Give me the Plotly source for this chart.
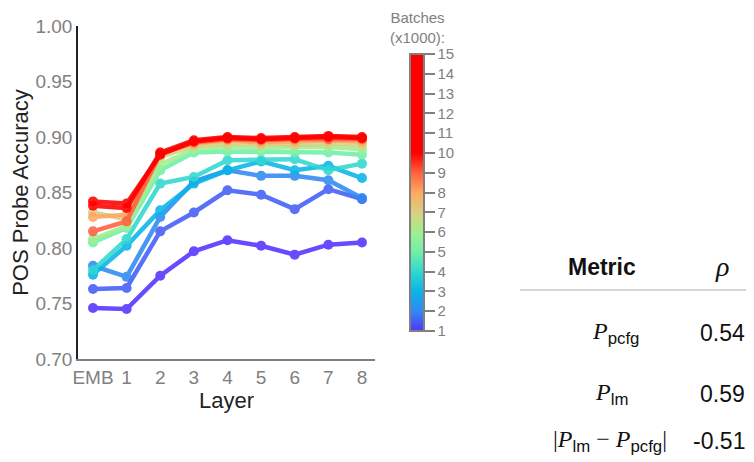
import plotly.graph_objects as go
from plotly.colors import sample_colorscale

# ---------------- data ----------------
layers = ["EMB", "1", "2", "3", "4", "5", "6", "7", "8"]
batches = [1, 1.5, 2, 3, 4, 5, 6, 7, 8, 9, 10, 15]
acc_b1 = [0.746, 0.745, 0.775, 0.797, 0.807, 0.802, 0.794, 0.803, 0.805]
acc_b1_5 = [0.763, 0.764, 0.815, 0.832, 0.852, 0.848, 0.835, 0.853, 0.844]
acc_b2 = [0.784, 0.774, 0.828, 0.860, 0.870, 0.865, 0.865, 0.861, 0.845]
acc_b3 = [0.776, 0.802, 0.834, 0.858, 0.870, 0.878, 0.870, 0.874, 0.863]
acc_b4 = [0.780, 0.808, 0.858, 0.864, 0.879, 0.879, 0.880, 0.870, 0.876]
acc_b5 = [0.805, 0.818, 0.870, 0.886, 0.887, 0.887, 0.886, 0.886, 0.884]
acc_b6 = [0.808, 0.820, 0.875, 0.889, 0.891, 0.890, 0.891, 0.891, 0.889]
acc_b7 = [0.832, 0.826, 0.882, 0.892, 0.894, 0.893, 0.893, 0.894, 0.893]
acc_b8 = [0.828, 0.830, 0.886, 0.894, 0.897, 0.895, 0.896, 0.897, 0.896]
acc_b9 = [0.815, 0.824, 0.885, 0.895, 0.898, 0.897, 0.898, 0.898, 0.898]
acc_b10 = [0.842, 0.840, 0.884, 0.896, 0.899, 0.898, 0.899, 0.900, 0.899]
acc_b15 = [0.838, 0.836, 0.886, 0.897, 0.900, 0.899, 0.900, 0.901, 0.900]
series = [acc_b1, acc_b1_5, acc_b2, acc_b3, acc_b4, acc_b5, acc_b6,
          acc_b7, acc_b8, acc_b9, acc_b10, acc_b15]

y_ticks = [0.70, 0.75, 0.80, 0.85, 0.90, 0.95, 1.00]
cbar_ticks = list(range(1, 16))

SANS = "Liberation Sans, Arial, Helvetica, sans-serif"
SERIF = "Liberation Serif, Times New Roman, serif"


def sub(s):
    return '<sub><span style="font-family:Liberation Sans, Arial">' + s + '</span></sub>'


metrics = ["<i>P</i>" + sub("pcfg"),
           "<i>P</i>" + sub("lm"),
           "|<i>P</i>" + sub("lm") + " − <i>P</i>" + sub("pcfg") + "|"]
rho = ["0.54", "0.59", "-0.51"]

# ---------------- style ----------------
CMIN, CMAX = 1, 15
stops = [(1, "#5533ff"), (2, "#2f8af2"), (3, "#0ab4e8"), (4, "#30d8d0"),
         (5, "#70f0a8"), (6, "#a0f090"), (7, "#d8d080"), (8, "#ffa860"),
         (9, "#ff6040"), (10, "#ff0000"), (15, "#ff0000")]
colorscale = [[(v - CMIN) / (CMAX - CMIN), c] for v, c in stops]

GRAY = "#808080"

# page has an 8px body margin; lay out in page pixel coordinates
OFF = 8
PAGE_W, PAGE_H = 754, 462
PL, PR, PT, PB = 78, 375, 26, 359          # plot area on the page
W, H = PAGE_W - OFF, PAGE_H - OFF
L, T = PL - OFF, PT - OFF
R, B = PAGE_W - PR, PAGE_H - PB
PW, PH = PR - PL, PB - PT


def px(x):
    return (x - PL) / PW


def py(y):
    return (PB - y) / PH


fig = go.Figure()
xs = list(range(len(layers)))
for b, vals in zip(batches, series):
    col = sample_colorscale(colorscale, [(b - CMIN) / (CMAX - CMIN)])[0]
    fig.add_trace(go.Scatter(
        x=xs, y=vals, mode="lines+markers",
        line=dict(color=col, width=4.5),
        marker=dict(color=col, size=10),
        opacity=0.88, showlegend=False, hoverinfo="skip"))

# colorbar carrier
fig.add_trace(go.Scatter(
    x=[None], y=[None], mode="markers", showlegend=False,
    marker=dict(color=[CMIN, CMAX], cmin=CMIN, cmax=CMAX,
                colorscale=colorscale, showscale=True,
                colorbar=dict(
                    x=px(410), xanchor="left", xref="paper",
                    y=py(192.5), yanchor="middle", yref="paper",
                    lenmode="pixels", len=277, thickness=14,
                    outlinecolor=GRAY, outlinewidth=2,
                    ticks="outside", ticklen=10, tickwidth=1.5,
                    tickcolor=GRAY, tickvals=cbar_ticks,
                    tickfont=dict(family=SANS, size=15, color=GRAY),
                    xpad=0, ypad=0))))

annotations = [
    dict(text="Batches<br>(x1000):", x=px(418), y=py(28), xref="paper",
         yref="paper", showarrow=False, xanchor="center", yanchor="middle",
         font=dict(family=SANS, size=15, color=GRAY), align="center"),
    dict(text="<b>Metric</b>", x=px(602), y=py(267), xref="paper",
         yref="paper", showarrow=False, xanchor="center", yanchor="middle",
         font=dict(family=SANS, size=23, color="#111")),
    dict(text="<i>ρ</i>", x=px(722), y=py(266), xref="paper",
         yref="paper", showarrow=False, xanchor="center", yanchor="middle",
         font=dict(family=SERIF, size=28, color="#111")),
]
row_y = [333, 394, 441]
row_x = [615, 611, 610]
for m, r, yy, xx in zip(metrics, rho, row_y, row_x):
    annotations.append(dict(
        text=m, x=px(xx), y=py(yy), xref="paper", yref="paper",
        showarrow=False, xanchor="center", yanchor="middle",
        font=dict(family=SERIF, size=24, color="#111")))
    annotations.append(dict(
        text=r, x=px(747), y=py(yy), xref="paper", yref="paper",
        showarrow=False, xanchor="right", yanchor="middle",
        font=dict(family=SANS, size=23, color="#111")))

fig.update_layout(
    width=W, height=H,
    margin=dict(l=L, r=R, t=T, b=B, pad=0, autoexpand=False),
    paper_bgcolor="white", plot_bgcolor="white",
    font=dict(family=SANS),
    annotations=annotations,
    shapes=[dict(type="line", xref="paper", yref="paper",
                 x0=px(520), x1=px(760), y0=py(290), y1=py(290),
                 line=dict(color="#c8c8c8", width=1.5))],
    xaxis=dict(range=[-0.446, 8.387], tickvals=xs, ticktext=layers,
               automargin=False,
               showgrid=False, zeroline=False, showline=True,
               linecolor=GRAY, linewidth=2, ticks="", ticklen=0,
               tickfont=dict(family=SANS, size=19, color=GRAY),
               title=dict(text="Layer", standoff=4,
                          font=dict(family=SANS, size=22, color="#222"))),
    yaxis=dict(range=[0.70, 1.00], tickvals=y_ticks, tickformat=".2f",
               automargin=False,
               showgrid=False, zeroline=False, showline=True,
               linecolor="#222", linewidth=1.5, ticks="", ticklen=0,
               tickfont=dict(family=SANS, size=19, color=GRAY),
               title=dict(text="POS Probe Accuracy", standoff=9,
                          font=dict(family=SANS, size=22, color="#222"))),
)

fig.write_html("out.html")
